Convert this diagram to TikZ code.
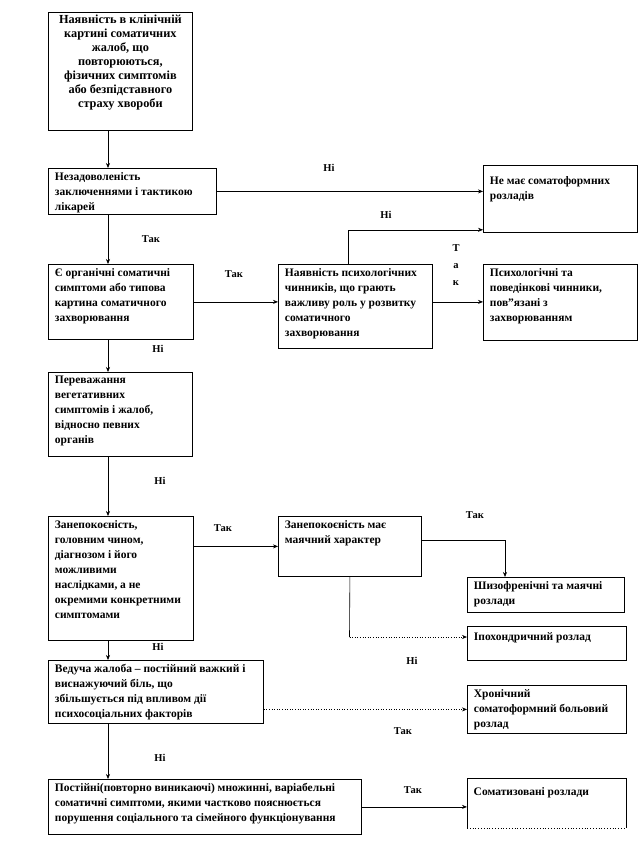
\documentclass[tikz,border=0pt]{standalone}
\usepackage{fontspec}
\setmainfont{Liberation Serif}
\usetikzlibrary{arrows.meta,calc}
\newcommand\bx[7]{\node[box] (#1) at (#2,#3) {\parbox[t][\dimexpr #5pt-8pt\relax][t]{\dimexpr #4pt-13pt\relax}{\vspace*{#6pt}\raggedright #7}};}
\begin{document}
\begin{tikzpicture}[x=1pt,y=-1pt,
  box/.style={draw, line width=0.8pt, anchor=north west, inner xsep=6.5pt, inner ysep=4pt,
    font=\fontsize{11.5}{15}\selectfont\bfseries},
  arr/.style={line width=0.6pt, -{Stealth[length=5pt,width=4pt]}},
  ln/.style={line width=0.6pt},
  lbl/.style={font=\fontsize{10.5}{17}\selectfont\bfseries, inner sep=0pt, align=center}]
\useasboundingbox (0,0) rectangle (639,864);
% boxes
\node[draw, line width=0.8pt, anchor=north west, inner xsep=5pt, inner ysep=3pt, font=\fontsize{12.3}{14}\selectfont\bfseries] (b1) at (48,12)
 {\parbox[t][112pt][t]{134pt}{\centering Наявність в клінічній\\ картині соматичних\\ жалоб, що\\ повторюються,\\ фізичних симптомів\\ або безпідставного\\ страху хвороби}};
\bx{b2}{48}{168}{168}{46}{0}{Незадоволеність\\ заключеннями і тактикою\\ лікарей}
\bx{b3}{483}{165}{154}{67}{7}{Не має соматоформних\\ розладів}
\bx{b4}{48}{264}{145}{75}{0}{Є органічні соматичні\\ симптоми або типова\\ картина соматичного\\ захворювання}
\bx{b5}{278}{264}{154}{84}{0}{Наявність психологічних\\ чинників, що грають\\ важливу роль у розвитку\\ соматичного\\ захворювання}
\bx{b6}{483}{264}{154}{76}{0}{Психологічні та\\ поведінкові чинники,\\ пов"язані з\\ захворюванням}
\bx{b7}{48}{372}{144}{84}{0}{Переважання\\ вегетативних\\ симптомів і жалоб,\\ відносно певних\\ органів}
\bx{b8}{48}{516}{145}{124}{0}{Занепокоєність,\\ головним чином,\\ діагнозом і його\\ можливими\\ наслідками, а не\\ окремими конкретними\\ симптомами}
\bx{b9}{278}{516}{143}{60}{0}{Занепокоєність має\\ маячний характер}
\bx{b10}{467}{577}{157}{35}{0}{Шизофренічні та маячні\\ розлади}
\bx{b11}{467}{626}{159}{34}{2}{Іпохондричний розлад}
\bx{b12}{48}{660}{215}{63}{0}{Ведуча жалоба -- постійний важкий і\\ виснажуючий біль, що\\ збільшується під впливом дії\\ психосоціальних факторів}
\bx{b13}{467}{685}{159}{48}{0}{Хронічний\\ соматоформний больовий\\ розлад}
\bx{b14}{48}{779}{313}{55}{0}{Постійні(повторно виникаючі) множинні, варіабельні\\ соматичні симптоми, якими частково пояснюється\\ порушення соціального та сімейного функціонування}
\node[anchor=north west, inner xsep=6.5pt, inner ysep=4pt, font=\fontsize{11.5}{15}\selectfont\bfseries] (b15) at (467,778)
 {\parbox[t][42pt][t]{146pt}{\vspace*{5pt}Соматизовані розлади}};
\draw[line width=0.8pt] (b15.south west) -- (b15.north west) -- (b15.north east) -- (b15.south east);
\draw[line width=0.8pt, dotted] (b15.south west) -- (b15.south east);
% connectors
\draw[arr] ([xshift=60pt]b1.south west) -- ([xshift=60pt]b2.north west);
\draw[arr] (b2.east) -- (b2.east -| b3.west);
\draw[arr] ([xshift=60pt]b2.south west) -- ([xshift=60pt]b4.north west);
\draw[arr] (b4.east) -- (b4.east -| b5.west);
\draw[arr] ([xshift=-7pt]b5.north) |- ([yshift=3pt]b3.south west);
\draw[arr] (b4.east -| b5.east) -- (b4.east -| b6.west);
\draw[arr] ([xshift=60pt]b4.south west) -- ([xshift=60pt]b7.north west);
\draw[arr] ([xshift=60pt]b7.south west) -- ([xshift=60pt]b8.north west);
\draw[arr] (b9.west -| b8.east) -- (b9.west);
\coordinate (k2) at (505,540);
\draw[arr] (k2 -| b9.east) -- (k2) -- (k2 |- b10.north);
\coordinate (k1) at (349.5,637);
\draw[ln] (b9.south) -- (k1);
\draw[arr, dotted] (k1) -- (k1 -| b11.west);
\draw[arr] ([xshift=60pt]b8.south west) -- ([xshift=60pt]b12.north west);
\draw[arr, dotted] (b13.west -| b12.east) -- (b13.west);
\draw[arr] ([xshift=60pt]b12.south west) -- ([xshift=60pt]b14.north west);
\draw[arr] (b14.east) -- (b14.east -| b15.west);
% labels
\node[lbl] (t1) at (329,168) {Ні};
\node[lbl] (t2) at (386,215) {Ні};
\node[lbl] (t3) at (151,239) {Так};
\node[lbl] (t4) at (234,274) {Так};
\node[lbl] (t5) at (456,265) {Т\\а\\к};
\node[lbl] (t6) at (158,349) {Ні};
\node[lbl] (t7) at (160,481) {Ні};
\node[lbl] (t8) at (223,528) {Так};
\node[lbl] (t9) at (475,515) {Так};
\node[lbl] (t10) at (158,647) {Ні};
\node[lbl] (t11) at (412,661) {Ні};
\node[lbl] (t12) at (403,731) {Так};
\node[lbl] (t13) at (160,758) {Ні};
\node[lbl] (t14) at (413,790) {Так};
\end{tikzpicture}
\end{document}
